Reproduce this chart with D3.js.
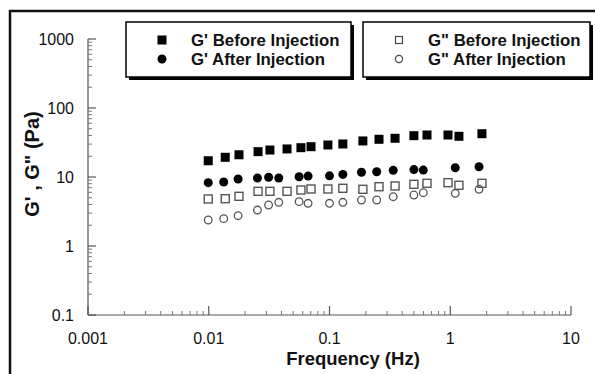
<!DOCTYPE html>
<html><head><meta charset="utf-8">
<script src="https://cdn.jsdelivr.net/npm/d3@7"></script>
<style>
html,body{margin:0;padding:0;background:#fff;}
svg{display:block;font-family:Arial,"Liberation Sans",sans-serif;}
</style></head>
<body><svg id="c" width="595" height="374"></svg>
<script>
// Data
const gpBeforeFreq = [0.0099,0.0137,0.0178,0.0256,0.0321,0.0445,0.058,0.0703,0.097,0.129,0.189,0.257,0.349,0.50,0.642,0.958,1.18,1.83];
const gpBefore     = [17.2,19.3,21.0,23.3,24.6,25.5,26.6,27.5,29.1,30.1,33.3,35.2,36.4,39.7,40.6,40.6,38.9,42.4];
const gpAfterFreq  = [0.0099,0.0133,0.0175,0.0253,0.0313,0.038,0.056,0.0665,0.100,0.129,0.184,0.246,0.337,0.50,0.598,1.10,1.73];
const gpAfter      = [8.27,8.47,9.35,9.67,9.9,9.67,10.1,10.3,10.4,10.9,11.7,11.9,12.5,12.8,12.6,13.6,14.1];
const gppBeforeFreq = gpBeforeFreq;
const gppBefore    = [4.80,4.85,5.25,6.2,6.2,6.2,6.48,6.7,6.7,6.86,6.63,7.23,7.41,7.84,8.1,8.27,7.58,8.1];
const gppAfterFreq = gpAfterFreq;
const gppAfter     = [2.38,2.49,2.75,3.32,3.93,4.30,4.39,4.16,4.16,4.30,4.64,4.64,5.18,5.48,5.92,5.8,6.63];
const xTickLabels = ["0.001","0.01","0.1","1","10"];
const yTickLabels = ["0.1","1","10","100","1000"];
const legend1 = ["G' Before Injection","G' After Injection"];
const legend2 = ["G\" Before Injection","G\" After Injection"];

const svg = d3.select("#c");
const x = d3.scaleLog().domain([0.001,10]).range([88,571]);
const y = d3.scaleLog().domain([0.1,1000]).range([315,39]);

// outer frame (left + top)
svg.append("line").attr("x1",10).attr("x2",10).attr("y1",10).attr("y2",374).attr("stroke","#111").attr("stroke-width",2.5);
svg.append("line").attr("x1",9).attr("x2",595).attr("y1",11).attr("y2",11).attr("stroke","#111").attr("stroke-width",2.5);

// minor ticks
function minors(dom){const out=[];for(let e=Math.log10(dom[0]);e<Math.log10(dom[1]);e++){for(let k=2;k<=9;k++)out.push(k*Math.pow(10,e));}return out;}
const axCol="#555";
const gx = svg.append("g");
gx.append("line").attr("x1",88).attr("x2",571).attr("y1",315).attr("y2",315).attr("stroke",axCol).attr("stroke-width",1.2);
gx.selectAll("line.mj").data(xTickLabels.map(Number)).join("line").attr("class","mj")
  .attr("x1",d=>x(d)).attr("x2",d=>x(d)).attr("y1",315).attr("y2",306).attr("stroke",axCol).attr("stroke-width",1.2);
gx.selectAll("line.mn").data(minors(x.domain())).join("line").attr("class","mn")
  .attr("x1",d=>x(d)).attr("x2",d=>x(d)).attr("y1",315).attr("y2",311).attr("stroke","#777").attr("stroke-width",1);
gx.selectAll("text").data(xTickLabels).join("text")
  .attr("x",d=>x(+d)).attr("y",343.5).attr("text-anchor","middle").attr("font-size",16).attr("fill","#111").text(d=>d);

const gy = svg.append("g");
gy.append("line").attr("x1",88).attr("x2",88).attr("y1",39).attr("y2",315).attr("stroke",axCol).attr("stroke-width",1.2);
gy.selectAll("line.mj").data(yTickLabels.map(Number)).join("line").attr("class","mj")
  .attr("x1",88).attr("x2",96).attr("y1",d=>y(d)).attr("y2",d=>y(d)).attr("stroke",axCol).attr("stroke-width",1.2);
gy.selectAll("line.mn").data(minors(y.domain())).join("line").attr("class","mn")
  .attr("x1",88).attr("x2",92).attr("y1",d=>y(d)).attr("y2",d=>y(d)).attr("stroke","#777").attr("stroke-width",1);
gy.selectAll("text").data(yTickLabels).join("text")
  .attr("x",74).attr("y",d=>y(+d)+6).attr("text-anchor","end").attr("font-size",16).attr("fill","#111").text(d=>d);

// axis titles
svg.append("text").attr("x",353).attr("y",364.5).attr("text-anchor","middle").attr("font-size",18.5).attr("font-weight","bold").attr("fill","#111").text("Frequency (Hz)");
svg.append("text").attr("transform","translate(39,164) rotate(-90)").attr("text-anchor","middle").attr("font-size",20).attr("font-weight","bold").attr("fill","#111").text("G' , G\" (Pa)");

// data
function zip(a,b){return a.map((f,i)=>({f,v:b[i]}));}
const pts = svg.append("g");
pts.selectAll("rect.gpb").data(zip(gpBeforeFreq,gpBefore)).join("rect").attr("class","gpb")
  .attr("x",d=>x(d.f)-4.5).attr("y",d=>y(d.v)-4.5).attr("width",9).attr("height",9).attr("fill","#000");
pts.selectAll("rect.gppb").data(zip(gppBeforeFreq,gppBefore)).join("rect").attr("class","gppb")
  .attr("x",d=>x(d.f)-4).attr("y",d=>y(d.v)-4).attr("width",8).attr("height",8).attr("fill","none").attr("stroke","#555").attr("stroke-width",1.4);
pts.selectAll("circle.gppa").data(zip(gppAfterFreq,gppAfter)).join("circle").attr("class","gppa")
  .attr("cx",d=>x(d.f)).attr("cy",d=>y(d.v)).attr("r",3.8).attr("fill","none").attr("stroke","#555").attr("stroke-width",1.3);
pts.selectAll("circle.gpa").data(zip(gpAfterFreq,gpAfter)).join("circle").attr("class","gpa")
  .attr("cx",d=>x(d.f)).attr("cy",d=>y(d.v)).attr("r",4.5).attr("fill","#000");

// legends
function legendBox(x0,w,labels,markers){
  const g=svg.append("g");
  g.append("rect").attr("x",x0+3).attr("y",25).attr("width",w).attr("height",55).attr("fill","#000");
  g.append("rect").attr("x",x0).attr("y",22).attr("width",w).attr("height",55).attr("fill","#fff").attr("stroke","#000").attr("stroke-width",1.5);
  labels.forEach((t,i)=>{
    const yy=[40,59][i];
    markers[i](g,x0+36,yy);
    g.append("text").attr("x",x0+65).attr("y",yy+6).attr("font-size",16.8).attr("font-weight","bold").attr("fill","#111").text(t);
  });
}
legendBox(126,225,legend1,[
  (g,cx,cy)=>g.append("rect").attr("x",cx-4.5).attr("y",cy-4.5).attr("width",9).attr("height",9).attr("fill","#000"),
  (g,cx,cy)=>g.append("circle").attr("cx",cx).attr("cy",cy).attr("r",4.5).attr("fill","#000")
]);
legendBox(363,227,legend2,[
  (g,cx,cy)=>g.append("rect").attr("x",cx-3.5).attr("y",cy-3.5).attr("width",7).attr("height",7).attr("fill","none").attr("stroke","#444").attr("stroke-width",1.2),
  (g,cx,cy)=>g.append("circle").attr("cx",cx).attr("cy",cy).attr("r",3.6).attr("fill","none").attr("stroke","#444").attr("stroke-width",1.2)
]);
</script></body></html>
